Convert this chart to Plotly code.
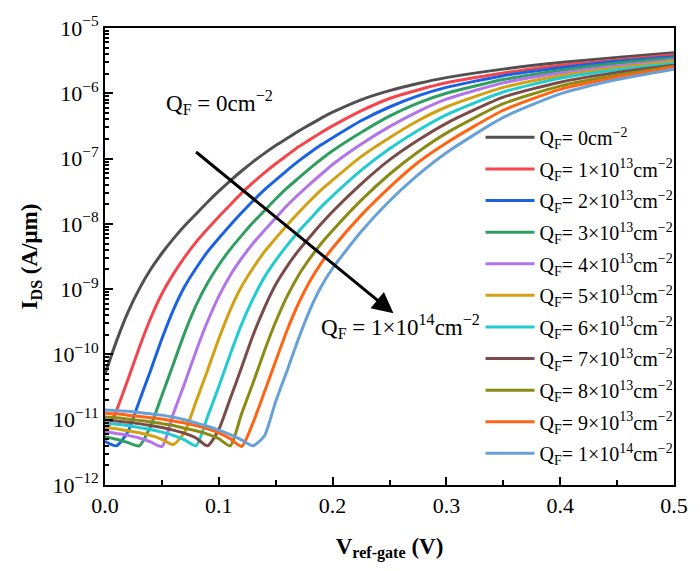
import plotly.graph_objects as go

# gate voltage grid (V)
v_grid = [0.00, 0.01, 0.02, 0.03, 0.04, 0.05, 0.06, 0.07, 0.08, 0.09, 0.10,
          0.11, 0.12, 0.13, 0.14, 0.15, 0.16, 0.17, 0.18, 0.19, 0.20,
          0.225, 0.25, 0.275, 0.30, 0.35, 0.40, 0.45, 0.50]

# log10(I_DS), one list per fixed-charge value
log_qf0 = [-10.30, -9.80, -9.36, -9.00, -8.70, -8.45, -8.23, -8.03, -7.85, -7.67, -7.50,
           -7.34, -7.19, -7.05, -6.92, -6.80, -6.69, -6.58, -6.48, -6.38, -6.29,
           -6.10, -5.96, -5.85, -5.76, -5.63, -5.53, -5.45, -5.38]
log_qf1 = [-11.22, -10.86, -10.39, -9.90, -9.45, -9.07, -8.77, -8.51, -8.28, -8.08, -7.89,
           -7.71, -7.53, -7.37, -7.22, -7.08, -6.95, -6.82, -6.71, -6.60, -6.50,
           -6.27, -6.08, -5.95, -5.84, -5.69, -5.57, -5.49, -5.41]
log_qf2 = [-11.33, -11.40, -11.19, -10.72, -10.25, -9.76, -9.32, -8.96, -8.68, -8.43, -8.22,
           -8.02, -7.83, -7.65, -7.48, -7.33, -7.18, -7.04, -6.91, -6.79, -6.68,
           -6.42, -6.21, -6.04, -5.91, -5.73, -5.61, -5.51, -5.44]
log_qf3 = [-11.26, -11.30, -11.35, -11.40, -11.10, -10.63, -10.15, -9.67, -9.25, -8.91, -8.63,
           -8.39, -8.18, -7.98, -7.80, -7.62, -7.45, -7.30, -7.15, -7.01, -6.88,
           -6.60, -6.35, -6.15, -6.00, -5.79, -5.65, -5.54, -5.46]
log_qf4 = [-11.18, -11.21, -11.24, -11.28, -11.34, -11.41, -10.91, -10.44, -9.95, -9.50, -9.11,
           -8.79, -8.53, -8.30, -8.10, -7.91, -7.72, -7.55, -7.39, -7.24, -7.09,
           -6.78, -6.51, -6.28, -6.09, -5.84, -5.69, -5.58, -5.49]
log_qf5 = [-11.12, -11.14, -11.17, -11.20, -11.24, -11.30, -11.38, -11.19, -10.72, -10.25, -9.76,
           -9.32, -8.96, -8.68, -8.43, -8.22, -8.02, -7.83, -7.65, -7.48, -7.33,
           -6.97, -6.68, -6.42, -6.21, -5.91, -5.73, -5.61, -5.51]
log_qf6 = [-11.05, -11.07, -11.09, -11.12, -11.15, -11.19, -11.24, -11.31, -11.40, -10.96, -10.49,
           -10.00, -9.54, -9.15, -8.82, -8.56, -8.33, -8.12, -7.93, -7.74, -7.57,
           -7.18, -6.85, -6.57, -6.33, -5.98, -5.77, -5.64, -5.54]
log_qf7 = [-11.00, -11.02, -11.04, -11.06, -11.09, -11.12, -11.16, -11.21, -11.28, -11.40, -11.15,
           -10.68, -10.20, -9.71, -9.29, -8.93, -8.65, -8.41, -8.20, -8.00, -7.81,
           -7.39, -7.02, -6.72, -6.46, -6.06, -5.83, -5.68, -5.57]
log_qf8 = [-10.96, -10.97, -10.99, -11.01, -11.03, -11.06, -11.09, -11.13, -11.17, -11.22, -11.29,
           -11.40, -10.91, -10.44, -9.95, -9.50, -9.11, -8.79, -8.53, -8.30, -8.10,
           -7.64, -7.24, -6.90, -6.61, -6.16, -5.89, -5.72, -5.59]
log_qf9 = [-10.90, -10.91, -10.93, -10.95, -10.97, -10.99, -11.02, -11.05, -11.09, -11.14, -11.20,
           -11.29, -11.41, -11.05, -10.58, -10.10, -9.63, -9.22, -8.88, -8.60, -8.37,
           -7.87, -7.44, -7.06, -6.76, -6.26, -5.94, -5.75, -5.60]
log_qf10 = [-10.85, -10.86, -10.87, -10.89, -10.91, -10.93, -10.96, -11.00, -11.05, -11.10, -11.16,
            -11.23, -11.31, -11.40, -11.25, -10.72, -10.25, -9.76, -9.32, -8.96, -8.68,
            -8.12, -7.65, -7.25, -6.91, -6.37, -6.01, -5.79, -5.63]

series_logs = [log_qf0, log_qf1, log_qf2, log_qf3, log_qf4, log_qf5,
               log_qf6, log_qf7, log_qf8, log_qf9, log_qf10]

legend_labels = [
    "Q<sub>F</sub>= 0cm<sup>−2</sup>",
    "Q<sub>F</sub>= 1×10<sup>13</sup>cm<sup>−2</sup>",
    "Q<sub>F</sub>= 2×10<sup>13</sup>cm<sup>−2</sup>",
    "Q<sub>F</sub>= 3×10<sup>13</sup>cm<sup>−2</sup>",
    "Q<sub>F</sub>= 4×10<sup>13</sup>cm<sup>−2</sup>",
    "Q<sub>F</sub>= 5×10<sup>13</sup>cm<sup>−2</sup>",
    "Q<sub>F</sub>= 6×10<sup>13</sup>cm<sup>−2</sup>",
    "Q<sub>F</sub>= 7×10<sup>13</sup>cm<sup>−2</sup>",
    "Q<sub>F</sub>= 8×10<sup>13</sup>cm<sup>−2</sup>",
    "Q<sub>F</sub>= 9×10<sup>13</sup>cm<sup>−2</sup>",
    "Q<sub>F</sub>= 1×10<sup>14</sup>cm<sup>−2</sup>",
]
colors = ["#505050", "#f4454c", "#1b62e2", "#2f9e60", "#b274e8", "#d3a013",
          "#22cbd0", "#7b4b49", "#8a8b15", "#ff6414", "#68a1d8"]

y_tick_vals = [1e-12, 1e-11, 1e-10, 1e-9, 1e-8, 1e-7, 1e-6, 1e-5]
y_tick_text = ["10<sup>−12</sup>", "10<sup>−11</sup>", "10<sup>−10</sup>", "10<sup>−9</sup>",
               "10<sup>−8</sup>", "10<sup>−7</sup>", "10<sup>−6</sup>", "10<sup>−5</sup>"]
x_tick_vals = [0.0, 0.1, 0.2, 0.3, 0.4, 0.5]
x_tick_text = ["0.0", "0.1", "0.2", "0.3", "0.4", "0.5"]

FONT = "Liberation Serif, Times New Roman, serif"

fig = go.Figure()
for i, (lv, name, col) in enumerate(zip(series_logs, legend_labels, colors)):
    fig.add_trace(go.Scatter(
        x=v_grid, y=[10 ** v for v in lv], mode="lines", name=name,
        line=dict(color=col, width=3, shape="spline", smoothing=0.6),
        legendgroup=f"g{i}"))

fig.update_layout(
    width=700, height=571,
    margin=dict(l=105, r=23, t=20, b=86),
    paper_bgcolor="white", plot_bgcolor="white",
    font=dict(family=FONT, color="black", size=22),
    showlegend=True,
    legend=dict(x=0.660, y=0.8034, xanchor="left", yanchor="top",
                bgcolor="rgba(0,0,0,0)", font=dict(family=FONT, size=20),
                tracegroupgap=2.6, itemwidth=49),
    xaxis=dict(range=[0, 0.5], showline=True, linecolor="black", linewidth=2,
               mirror=True, ticks="inside", ticklen=8, tickwidth=2, tickcolor="black",
               tickvals=x_tick_vals, ticktext=x_tick_text, showgrid=False, zeroline=False,
               tickfont=dict(family=FONT, size=22),
               minor=dict(ticks="inside", ticklen=5, tickwidth=2, dtick=0.05,
                          tickcolor="black", showgrid=False),
               title=dict(text="<b>V<sub>ref-gate</sub> (V)</b>",
                          font=dict(family=FONT, size=23), standoff=20)),
    yaxis=dict(type="log", range=[-12, -5], showline=True, linecolor="black", linewidth=2,
               mirror=True, ticks="inside", ticklen=8, tickwidth=2, tickcolor="black",
               tickvals=y_tick_vals, ticktext=y_tick_text, showgrid=False, zeroline=False,
               tickfont=dict(family=FONT, size=22),
               minor=dict(ticks="inside", ticklen=4, tickwidth=1.5, dtick="D1",
                          tickcolor="black", showgrid=False),
               title=dict(text="<b>I<sub>DS</sub> (A/μm)</b>",
                          font=dict(family=FONT, size=23), standoff=8)),
)

fig.add_annotation(x=0.2535, y=-9.37, ax=0.0787, ay=-6.88, xref="x", yref="y",
                   axref="x", ayref="y", showarrow=True, arrowhead=2, arrowsize=1.4,
                   arrowwidth=3, arrowcolor="black", text="")
fig.add_annotation(x=0.201, y=0.837, xref="paper", yref="paper", showarrow=False,
                   xanchor="center", yanchor="middle",
                   text="Q<sub>F</sub> = 0cm<sup>−2</sup>", font=dict(family=FONT, size=23))
fig.add_annotation(x=0.519, y=0.347, xref="paper", yref="paper", showarrow=False,
                   xanchor="center", yanchor="middle",
                   text="Q<sub>F</sub> = 1×10<sup>14</sup>cm<sup>−2</sup>",
                   font=dict(family=FONT, size=23))

fig.write_html("out.html")
